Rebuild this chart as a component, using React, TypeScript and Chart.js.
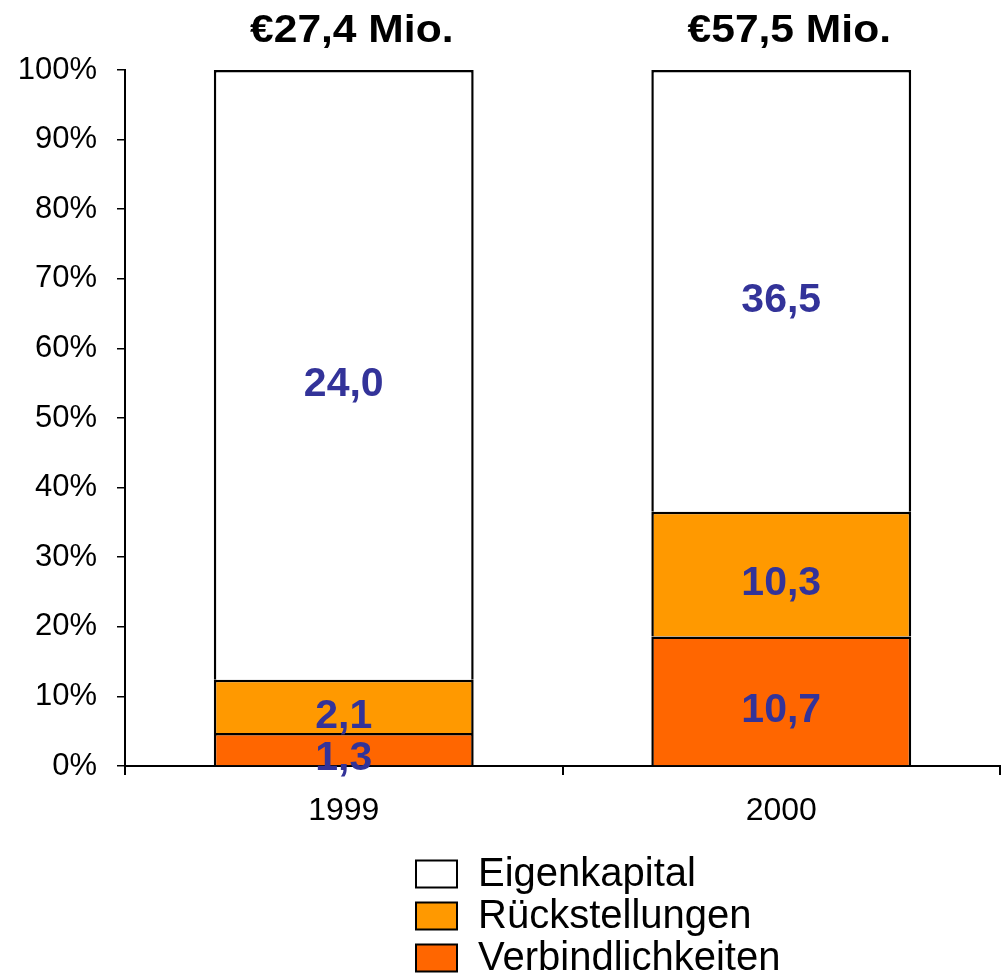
import React, { useEffect, useRef } from "react";
import { Chart, registerables } from "chart.js";

Chart.register(...registerables);

const categories = ["1999", "2000"];
const totals = ["€27,4 Mio.", "€57,5 Mio."];
const seriesNames = ["Verbindlichkeiten", "Rückstellungen", "Eigenkapital"];
const verbindlichkeiten = [1.3, 10.7];
const rueckstellungen = [2.1, 10.3];
const eigenkapital = [24.0, 36.5];
const seriesColors = ["#FF6600", "#FF9900", "#FFFFFF"];
const yTicks = [0, 10, 20, 30, 40, 50, 60, 70, 80, 90, 100];

const FONT = '"Liberation Sans", Arial, sans-serif';

export default function App() {
  const ref = useRef<HTMLCanvasElement | null>(null);

  useEffect(() => {
    const raw = [verbindlichkeiten, rueckstellungen, eigenkapital];
    const sums = categories.map((_, i) => raw.reduce((s, arr) => s + arr[i], 0));
    const datasets = raw.map((arr, k) => ({
      label: seriesNames[k],
      data: arr.map((v, i) => (v / sums[i]) * 100),
      rawValues: arr,
      backgroundColor: seriesColors[k],
      borderColor: "#000000",
      borderWidth: 2.5,
      categoryPercentage: 1,
      barPercentage: 0.594,
    }));

    const labelPlugin = {
      id: "labels",
      afterDatasetsDraw(chart: any) {
        const ctx = chart.ctx;
        ctx.save();
        ctx.textAlign = "center";
        ctx.textBaseline = "middle";
        ctx.fillStyle = "#333399";
        ctx.font = `bold 41px ${FONT}`;
        chart.data.datasets.forEach((ds: any, k: number) => {
          const meta = chart.getDatasetMeta(k);
          meta.data.forEach((bar: any, i: number) => {
            const v = ds.rawValues[i];
            const y = (bar.y + bar.base) / 2 + 10;
            ctx.fillText(v.toFixed(1).replace(".", ","), bar.x, y);
          });
        });
        // totals above bars
        ctx.fillStyle = "#000000";
        ctx.font = `bold 38px ${FONT}`;
        const top = chart.getDatasetMeta(chart.data.datasets.length - 1);
        top.data.forEach((bar: any, i: number) => {
          ctx.save();
          ctx.translate(bar.x + 8, chart.chartArea.top - 38);
          ctx.scale(1.12, 1);
          ctx.fillText(totals[i], 0, 0);
          ctx.restore();
        });
        // legend
        const lx = 416;
        const ly0 = 874;
        const dy = 42;
        const order = [2, 1, 0];
        ctx.textAlign = "left";
        ctx.font = `40px ${FONT}`;
        order.forEach((k, r) => {
          const cy = ly0 + r * dy;
          ctx.fillStyle = seriesColors[k];
          ctx.fillRect(lx, cy - 13.5, 41, 27);
          ctx.lineWidth = 2;
          ctx.strokeStyle = "#000";
          ctx.strokeRect(lx, cy - 13.5, 41, 27);
          ctx.fillStyle = "#000";
          ctx.fillText(seriesNames[k], lx + 62, cy + 1);
        });
        ctx.restore();
      },
    };

    const chart = new Chart(ref.current as HTMLCanvasElement, {
      type: "bar",
      data: { labels: categories, datasets: datasets as any },
      plugins: [labelPlugin],
      options: {
        animation: false,
        responsive: false,
        maintainAspectRatio: false,
        layout: { padding: { top: 70, left: 0, right: 2, bottom: 0 } },
        plugins: {
          legend: { display: false },
          tooltip: { enabled: false },
          title: { display: false },
        },
        scales: {
          x: {
            stacked: true,
            afterFit: (s: any) => {
              s.height = 210;
            },
            grid: {
              display: true,
              offset: true,
              drawOnChartArea: false,
              drawTicks: true,
              tickLength: 9,
              color: "#000",
              lineWidth: 2,
            },
            border: { display: true, color: "#000", width: 2 },
            ticks: {
              color: "#000",
              font: { family: FONT, size: 32 },
              padding: 17,
            },
          },
          y: {
            stacked: true,
            min: 0,
            max: 100,
            afterFit: (s: any) => {
              s.width = 125;
            },
            afterBuildTicks: (s: any) => {
              s.ticks = yTicks.map((v) => ({ value: v }));
            },
            grid: {
              display: true,
              drawOnChartArea: false,
              drawTicks: true,
              tickLength: 8,
              color: "#000",
              lineWidth: 1.5,
            },
            border: { display: true, color: "#000", width: 2 },
            ticks: {
              color: "#000",
              font: { family: FONT, size: 31 },
              padding: 20,
              callback: (v: any) => `${v}%`,
            },
          },
        },
      },
    });
    return () => chart.destroy();
  }, []);

  return (
    <div style={{ position: "absolute", left: 0, top: 0, width: 1002, height: 976, background: "#fff" }}>
      <canvas ref={ref} width={1002} height={976} style={{ width: 1002, height: 976 }} />
    </div>
  );
}
